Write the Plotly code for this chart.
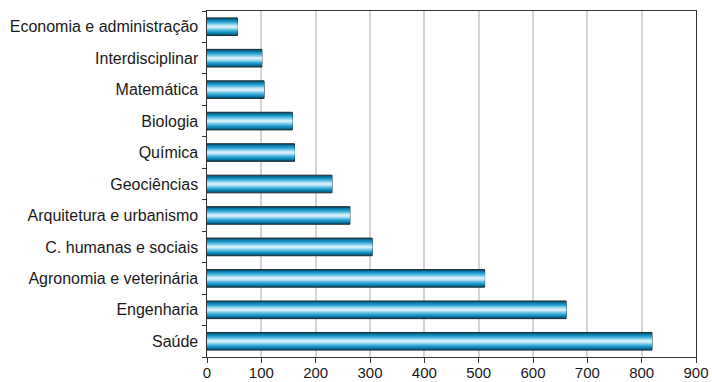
import plotly.graph_objects as go

categories = ["Saúde", "Engenharia", "Agronomia e veterinária", "C. humanas e sociais",
              "Arquitetura e urbanismo", "Geociências", "Química", "Biologia",
              "Matemática", "Interdisciplinar", "Economia e administração"]
values = [819, 661, 511, 304, 263, 230, 161, 157, 105, 101, 56]
x_ticks = [0, 100, 200, 300, 400, 500, 600, 700, 800, 900]

# layered bars to imitate the cylindrical gradient (outer -> inner)
layers = [
    (0.56, "#0a5878"),
    (0.48, "#0878a6"),
    (0.40, "#1592c2"),
    (0.32, "#35a9d6"),
    (0.24, "#66c0e4"),
    (0.16, "#9fd8f0"),
    (0.08, "#d2eff9"),
]

fig = go.Figure()
for i, (w, c) in enumerate(layers):
    fig.add_trace(go.Bar(
        x=values, y=categories, orientation="h", width=w,
        marker=dict(color=c,
                    line=dict(color="#1b2b33" if i == 0 else c, width=1 if i == 0 else 0)),
        hoverinfo="x+y", showlegend=False,
    ))

font = dict(family="Liberation Sans, Arial, sans-serif", size=16, color="#1a1a1a")
xfont = dict(family="Liberation Sans, Arial, sans-serif", size=15, color="#1a1a1a")
fig.update_layout(
    barmode="overlay",
    width=712, height=382,
    margin=dict(l=207, r=16, t=11, b=25, autoexpand=False),
    paper_bgcolor="white", plot_bgcolor="white",
    font=font,
    xaxis=dict(range=[0, 900], tickvals=x_ticks, ticktext=[str(v) for v in x_ticks],
               showgrid=True, gridcolor="#d4d4d4", gridwidth=1.5,
               showline=True, linecolor="#333333", linewidth=1.2, mirror=True,
               ticks="outside", ticklen=5, tickcolor="#333333", zeroline=False,
               tickfont=xfont, automargin=False, ticklabelstandoff=-3),
    yaxis=dict(type="category", categoryorder="array", categoryarray=categories,
               showline=True, linecolor="#333333", linewidth=1.2, mirror=True,
               ticks="outside", ticklen=4, tickcolor="#333333", tickson="boundaries",
               showgrid=False, tickfont=font, ticksuffix=" ", automargin=False),
)
fig.write_html("out.html")
